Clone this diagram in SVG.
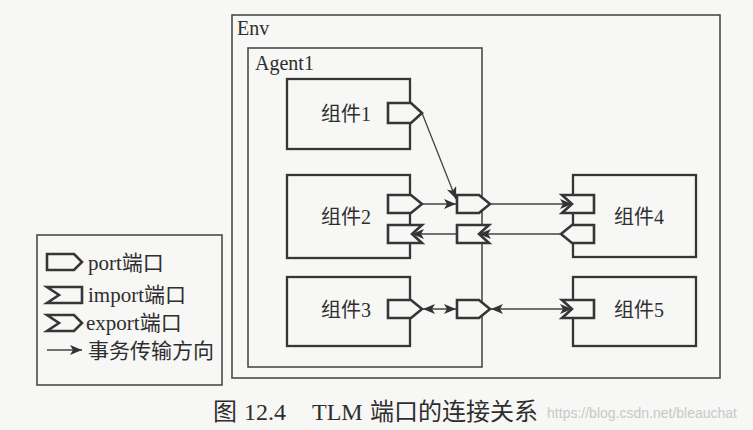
<svg xmlns="http://www.w3.org/2000/svg" width="753" height="430" viewBox="0 0 753 430">
<style>
.bg{fill:#f7f7f5}
.frame{fill:none;stroke:#4a4a4a;stroke-width:1.6}
.box{fill:none;stroke:#363636;stroke-width:2.3}
.port{fill:#f7f7f5;stroke:#363636;stroke-width:2.6;stroke-linejoin:miter}
.conn{fill:none;stroke:#444;stroke-width:1.3}
.lbl{font-family:"Liberation Serif","Noto Sans CJK SC",serif;font-size:20px;fill:#2e2e2e}
.leg{font-family:"Liberation Serif","Noto Sans CJK SC",serif;font-size:21px;fill:#2e2e2e}
.cap{font-family:"Liberation Serif","Noto Sans CJK SC",serif;font-size:24px;fill:#2e2e2e}
.wm{font-family:"Liberation Sans",sans-serif;font-size:14px;fill:#c8c8c8}
</style>
<defs>
<marker id="arr" markerUnits="userSpaceOnUse" markerWidth="13" markerHeight="10" refX="12" refY="5" orient="auto-start-reverse">
<path d="M0,0 L12,5 L0,10 L3,5 z" fill="#333"/>
</marker>
</defs>
<rect class="bg" x="0" y="0" width="753" height="430"/>

<g id="env">
<rect class="frame" x="232" y="15" width="488" height="363"/>
<text class="lbl" x="237" y="35">Env</text>
</g>

<g id="agent1">
<rect class="frame" x="248" y="48" width="234" height="319"/>
<text class="lbl" x="255" y="70">Agent1</text>
<polygon class="port" points="457,195 479,195 490,204 479,213 457,213"/>
<polygon class="port" points="457,225 489,225 479,234 489,243 457,243"/>
<polygon class="port" points="457,300 479,300 490,309 479,318 457,318"/>
</g>

<g id="comp1">
<rect class="box" x="287" y="79" width="123" height="70"/>
<polygon class="port" points="388,103 411,103 422,113 411,123 388,123"/>
<text class="lbl" x="346" y="121" text-anchor="middle">组件1</text>
</g>

<g id="comp2">
<rect class="box" x="287" y="175" width="123" height="83"/>
<polygon class="port" points="388,195 411,195 422,204 411,213 388,213"/>
<polygon class="port" points="388,225 422,225 412,234 422,243 388,243"/>
<text class="lbl" x="346" y="224" text-anchor="middle">组件2</text>
</g>

<g id="comp3">
<rect class="box" x="287" y="277" width="123" height="69"/>
<polygon class="port" points="388,300 411,300 422,309 411,318 388,318"/>
<text class="lbl" x="346" y="317" text-anchor="middle">组件3</text>
</g>

<g id="comp4">
<rect class="box" x="573" y="175" width="123" height="82"/>
<polygon class="port" points="562,195 594,195 594,213 562,213 572,204"/>
<polygon class="port" points="561,234 572,225 594,225 594,243 572,243"/>
<text class="lbl" x="639" y="224" text-anchor="middle">组件4</text>
</g>

<g id="comp5">
<rect class="box" x="573" y="277" width="123" height="69"/>
<polygon class="port" points="562,300 594,300 594,318 562,318 572,309"/>
<text class="lbl" x="639" y="317" text-anchor="middle">组件5</text>
</g>

<g id="connectors">
<line class="conn" x1="422" y1="113" x2="456" y2="199" marker-end="url(#arr)"/>
<line class="conn" x1="422" y1="204" x2="456" y2="204" marker-end="url(#arr)"/>
<line class="conn" x1="490" y1="204" x2="572" y2="204" marker-end="url(#arr)"/>
<line class="conn" x1="561" y1="234" x2="479" y2="234" marker-end="url(#arr)"/>
<line class="conn" x1="457" y1="234" x2="412" y2="234" marker-end="url(#arr)"/>
<line class="conn" x1="423" y1="309" x2="456" y2="309" marker-start="url(#arr)" marker-end="url(#arr)"/>
<line class="conn" x1="491" y1="309" x2="572" y2="309" marker-start="url(#arr)" marker-end="url(#arr)"/>
</g>

<g id="legend">
<rect class="frame" x="37" y="235" width="185" height="150"/>
<polygon class="port" points="47,254 74,254 82,262 74,270 47,270"/>
<text class="leg" x="88" y="270">port端口</text>
<polygon class="port" points="47,287 82,287 82,303 47,303 59,295"/>
<text class="leg" x="88" y="302">import端口</text>
<polygon class="port" points="47,315 74,315 82,323 74,331 47,331 59,323"/>
<text class="leg" x="86" y="330">export端口</text>
<line class="conn" x1="47" y1="350" x2="82" y2="350" marker-end="url(#arr)"/>
<text class="leg" x="88" y="358">事务传输方向</text>
</g>

<g id="caption">
<text class="wm" x="737" y="418" text-anchor="end">https://blog.csdn.net/bleauchat</text>
<text class="cap" y="420"><tspan x="213">图</tspan><tspan x="244">12.4</tspan><tspan x="312">TLM</tspan><tspan x="370">端口的连接关系</tspan></text>
</g>
</svg>
